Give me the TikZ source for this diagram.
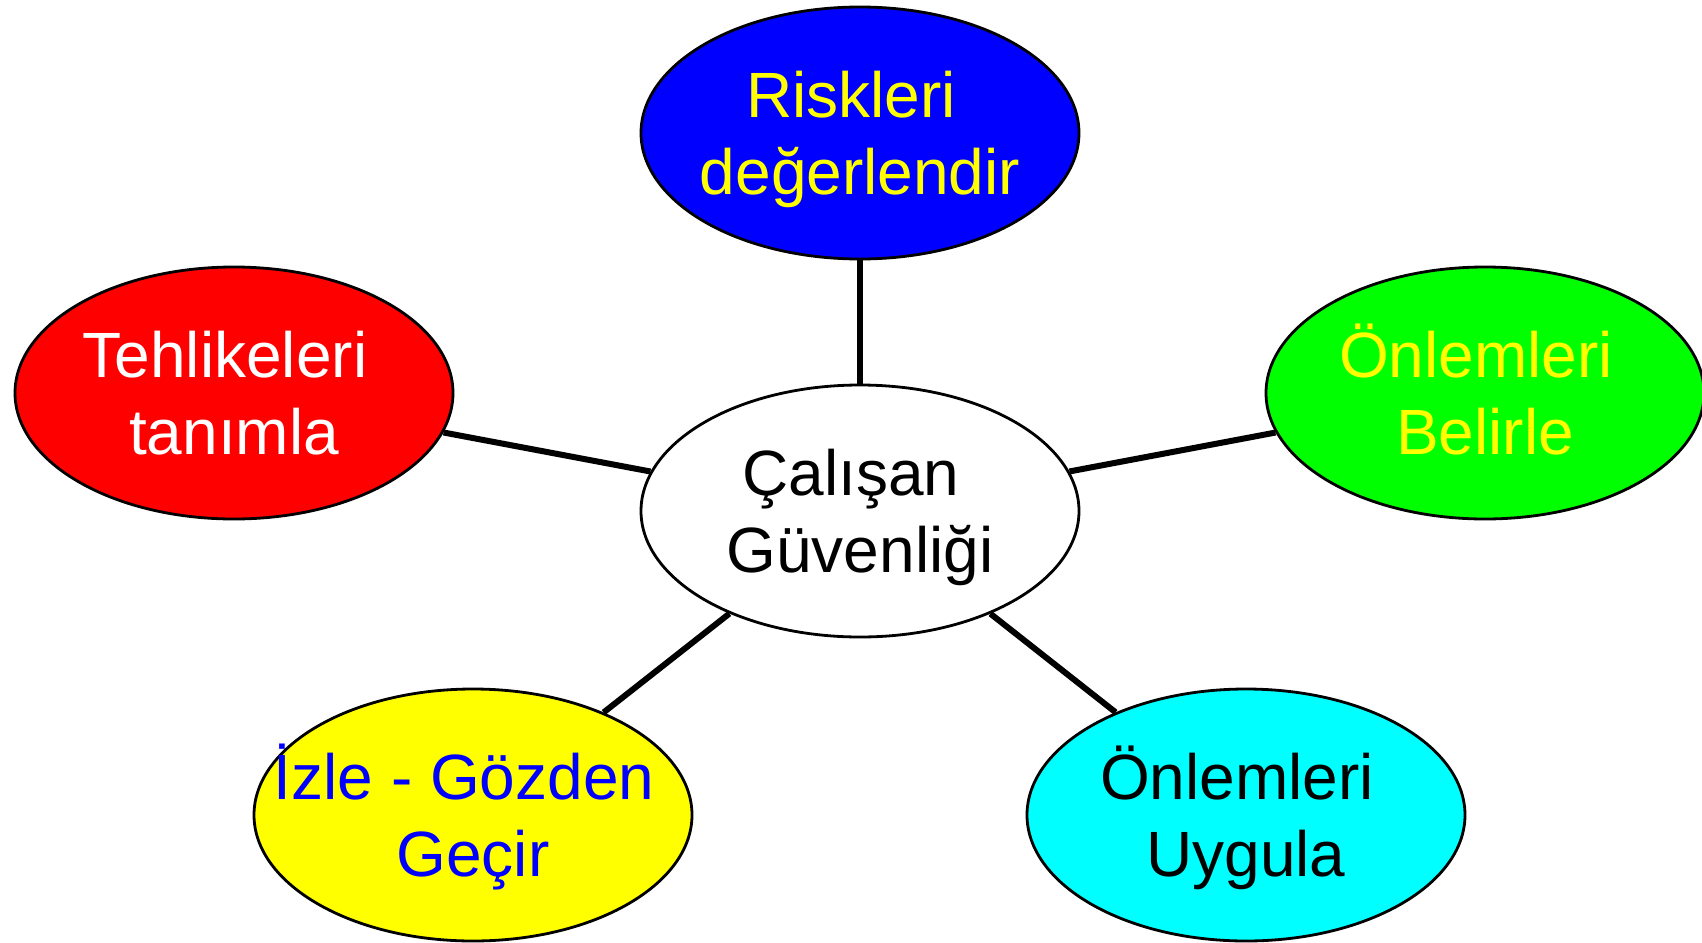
\documentclass[tikz,border=0pt]{standalone}
\usepackage{fontspec}
\setmainfont{Liberation Sans}
\usepackage{tikz}
\usepackage{xcolor}
\usetikzlibrary{shapes.geometric}

\definecolor{bubbleblue}{RGB}{0,0,255}
\definecolor{bubblered}{RGB}{255,0,0}
\definecolor{bubblegreen}{RGB}{0,255,0}
\definecolor{bubbleyellow}{RGB}{255,255,0}
\definecolor{bubblecyan}{RGB}{0,255,255}

\newcommand{\trail}{\hspace*{.28em}}

\begin{document}
\begin{tikzpicture}[x=1pt,y=-1pt,
    bubble/.style={ellipse, draw=black, line width=2.8pt,
        minimum width=438pt, minimum height=252pt,
        inner xsep=-90pt, inner ysep=0pt, align=center,
        text height=123pt, text depth=0pt,
        font=\fontsize{64}{77}\selectfont},
    link/.style={line width=6pt}]
    \useasboundingbox (0,0) rectangle (1702,942);

    % Centre
    \node[bubble, fill=white, text=black] (calisan) at (860,511)
        {Çalışan\trail\\Güvenliği};

    % Steps round the centre
    \node[bubble, fill=bubbleblue, text=bubbleyellow] (riskler) at (860,133)
        {Riskleri\trail\\değerlendir};
    \node[bubble, fill=bubblered, text=white] (tehlikeler) at (234,393)
        {Tehlikeleri\trail\\tanımla};
    \node[bubble, fill=bubblegreen, text=bubbleyellow] (belirle) at (1485,393)
        {Önlemleri\trail\\Belirle};
    \node[bubble, fill=bubbleyellow, text=bubbleblue] (izle) at (473,815)
        {İzle - Gözden\trail\\Geçir};
    \node[bubble, fill=bubblecyan, text=black] (uygula) at (1246,815)
        {Önlemleri\trail\\Uygula};

    % Links
    \draw[link] (calisan) -- (riskler);
    \draw[link] (calisan) -- (tehlikeler);
    \draw[link] (calisan) -- (belirle);
    \draw[link] (calisan) -- (izle);
    \draw[link] (calisan) -- (uygula);
\end{tikzpicture}
\end{document}
